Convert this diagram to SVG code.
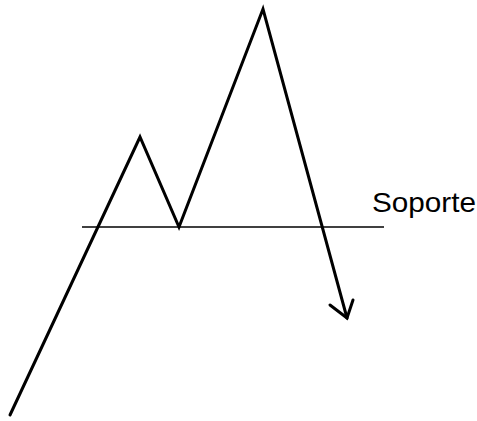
<svg xmlns="http://www.w3.org/2000/svg" width="477" height="421" viewBox="0 0 477 421">
<style>
.trend{fill:none;stroke:#000;stroke-width:3;stroke-linejoin:miter;stroke-linecap:round}
.support{stroke:#000;stroke-width:1.3}
.lbl{font-family:"Liberation Sans",Arial,sans-serif;font-size:28px;fill:#000}
</style>
<rect width="477" height="421" fill="#fff"/>
<g id="connectors">
<line class="support" x1="82" y1="227" x2="384" y2="227"/>
<polyline class="trend" points="10,415 140,137 179,227 263,9 347,318"/>
<polyline class="trend" points="330,305 347,318 353,300"/>
</g>
<g id="label-soporte">
<text class="lbl" x="372" y="212" textLength="104" lengthAdjust="spacingAndGlyphs">Soporte</text>
</g>
</svg>
